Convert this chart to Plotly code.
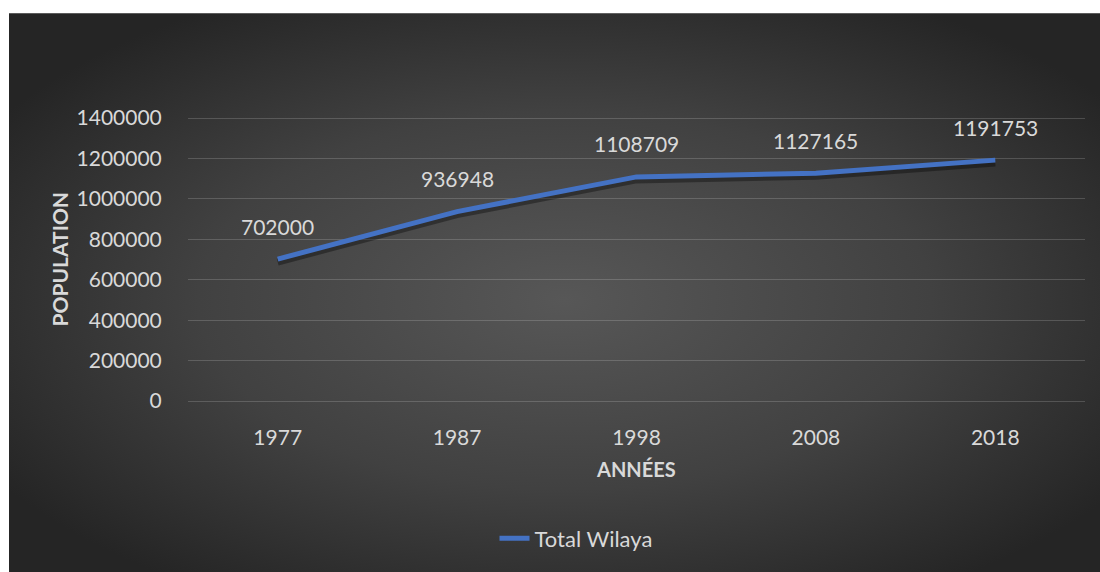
import plotly.graph_objects as go
import urllib.parse

years = ["1977", "1987", "1998", "2008", "2018"]
population = [702000, 936948, 1108709, 1127165, 1191753]
y_ticks = [0, 200000, 400000, 600000, 800000, 1000000, 1200000, 1400000]
series_name = "Total Wilaya"

W, H = 1100, 572
Y0_PX, YTOP_PX = 404, 118          # pixel rows of 0 and 1400000
YMAX = 1415000
scale = (Y0_PX - YTOP_PX) / 1400000
top_px = Y0_PX - YMAX * scale
L, R = 188, 1100 - 1085
T = top_px
B = H - Y0_PX
pw, ph = W - L - R, H - T - B
SHADOW_PX = 3
shadow_shift = SHADOW_PX / scale

def px_x(px):
    return (px - L) / pw

def px_y(py):
    return (H - B - py) / ph

svg = (
    "<svg xmlns='http://www.w3.org/2000/svg' width='1091' height='560' viewBox='0 0 1091 560' preserveAspectRatio='none'>"
    "<defs><radialGradient id='g' cx='50%' cy='50%' r='60%' gradientUnits='objectBoundingBox'>"
    "<stop offset='0' stop-color='#575757'/><stop offset='0.55' stop-color='#414141'/>"
    "<stop offset='1' stop-color='#252525'/></radialGradient></defs>"
    "<rect width='1091' height='560' fill='url(#g)'/></svg>"
)
svg_uri = "data:image/svg+xml;charset=utf-8," + urllib.parse.quote(svg)

fig = go.Figure()
# base-axis trace (invisible) so the main y axis with its grid and labels is drawn
fig.add_trace(go.Scatter(
    x=years, y=population, mode="lines", showlegend=False, hoverinfo="skip",
    line=dict(color="rgba(0,0,0,0)", width=0), opacity=0,
))
# soft drop shadow of the line (same data, axis offset by a few pixels)
fig.add_trace(go.Scatter(
    x=years, y=population, mode="lines", showlegend=False, hoverinfo="skip",
    line=dict(color="rgba(0,0,0,0.35)", width=7), yaxis="y2",
))
fig.add_trace(go.Scatter(
    x=years, y=population, mode="lines", name=series_name,
    line=dict(color="#4472C4", width=5), yaxis="y3",
))

for i, val in enumerate(population):
    fig.add_annotation(x=i, y=val, text=str(val), showarrow=False,
                       xanchor="center", yanchor="middle",
                       yshift=33, font=dict(family="Lato", size=21, color="#d9d9d9"))

fig.add_annotation(xref="paper", yref="paper", x=px_x(60), y=px_y(261),
                   xanchor="center", yanchor="middle",
                   text="<b>POPULATION</b>", textangle=-90, showarrow=False,
                   font=dict(family="Lato", size=21, color="#d9d9d9"))
fig.add_annotation(xref="paper", yref="paper", x=px_x(636), y=px_y(473),
                   xanchor="center", yanchor="middle",
                   text="<b>ANNÉES</b>", showarrow=False,
                   font=dict(family="Lato", size=20, color="#d9d9d9"))

fig.add_layout_image(dict(
    source=svg_uri, xref="paper", yref="paper",
    x=px_x(9), y=px_y(12),
    sizex=(W + 20 - 9) / pw, sizey=(H + 20 - 12) / ph,
    xanchor="left", yanchor="top", sizing="stretch", layer="below",
))

fig.add_shape(type="rect", xref="paper", yref="paper", layer="below",
              x0=px_x(-5), x1=px_x(9), y0=px_y(H + 10), y1=px_y(-5),
              fillcolor="white", line=dict(width=0))
fig.add_shape(type="rect", xref="paper", yref="paper", layer="below",
              x0=px_x(-5), x1=px_x(W + 10), y0=px_y(12), y1=px_y(-5),
              fillcolor="white", line=dict(width=0))

hidden_axis = dict(overlaying="y", showgrid=False, zeroline=False, showline=False,
                   showticklabels=False, ticks="")

fig.update_layout(
    width=W, height=H,
    margin=dict(l=L, r=R, t=T, b=B, pad=0),
    paper_bgcolor="#262626", plot_bgcolor="rgba(0,0,0,0)",
    font=dict(family="Lato", size=21, color="#d9d9d9"),
    showlegend=True,
    legend=dict(orientation="h", x=px_x(576), y=px_y(543),
                xanchor="center", yanchor="middle", itemwidth=30,
                font=dict(family="Lato", size=22, color="#d9d9d9"),
                bgcolor="rgba(0,0,0,0)"),
    xaxis=dict(type="category", range=[-0.5, 4.5], showgrid=False, zeroline=False,
               showline=False, ticks="outside", ticklen=18, tickcolor="rgba(0,0,0,0)",
               tickfont=dict(family="Lato", size=21, color="#d9d9d9")),
    yaxis=dict(range=[0, YMAX], tickvals=y_ticks, ticktext=[str(v) for v in y_ticks],
               showgrid=True, gridcolor="rgba(255,255,255,0.17)", gridwidth=1.2,
               zeroline=True, zerolinecolor="rgba(255,255,255,0.17)", zerolinewidth=1.2,
               showline=False, ticks="outside", ticklen=21, tickcolor="rgba(0,0,0,0)",
               tickfont=dict(family="Lato", size=21, color="#d9d9d9")),
    yaxis2=dict(range=[shadow_shift, YMAX + shadow_shift], **hidden_axis),
    yaxis3=dict(range=[0, YMAX], **hidden_axis),
)

fig.write_html(
    "out.html",
    config={"displayModeBar": False},
    post_script=(
        "document.body.style.margin='0';"
        "document.body.style.overflow='hidden';"
        "document.body.style.background='#262626';"
        "document.documentElement.style.background='#262626';"
    ),
)
